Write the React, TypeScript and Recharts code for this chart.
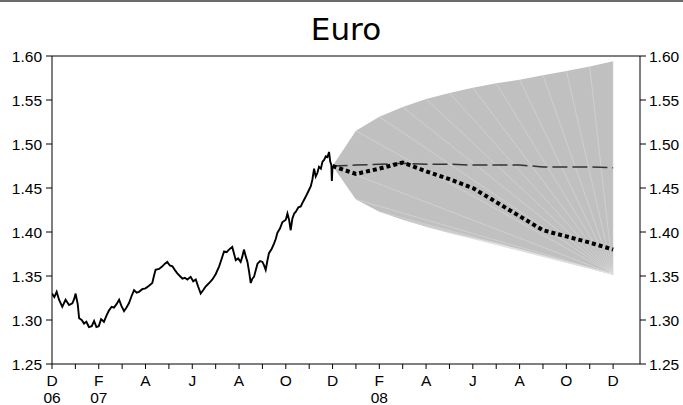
import { ComposedChart, Area, Line, XAxis, YAxis, ReferenceLine } from 'recharts'

// time axis: months since 1 Dec 2006
const spotMonths = [
  0, 0.1, 0.2, 0.3, 0.44, 0.58, 0.73, 0.87, 0.95, 1.01,
  1.1, 1.16, 1.27, 1.37, 1.47, 1.58, 1.7, 1.8, 1.9, 2.0,
  2.1, 2.22, 2.33, 2.44, 2.55, 2.65, 2.76, 2.87, 2.97, 3.08,
  3.18, 3.29, 3.4, 3.51, 3.62, 3.72, 3.86, 4.0, 4.15, 4.29,
  4.36, 4.43, 4.58, 4.72, 4.83, 4.93, 5.04, 5.15, 5.25, 5.36,
  5.47, 5.58, 5.68, 5.79, 5.93, 6.04, 6.15, 6.25, 6.36, 6.47,
  6.57, 6.72, 6.86, 7.0, 7.15, 7.25, 7.36, 7.47, 7.57, 7.71,
  7.79, 7.86, 7.96, 8.07, 8.14, 8.21, 8.29, 8.36, 8.43, 8.5,
  8.57, 8.64, 8.72, 8.79, 8.9, 9.0, 9.07, 9.14, 9.21, 9.28,
  9.4, 9.5, 9.57, 9.64, 9.75, 9.85, 10.0, 10.07, 10.14, 10.21,
  10.28, 10.36, 10.43, 10.54, 10.64, 10.75, 10.85, 10.96, 11.07, 11.14,
  11.21, 11.28, 11.35, 11.42, 11.5, 11.57, 11.64, 11.71, 11.78, 11.85,
  11.9, 11.95, 11.97, 12.0,
]
const spotRates = [
  1.330, 1.326, 1.332, 1.323, 1.315, 1.323, 1.317, 1.319, 1.324, 1.330,
  1.318, 1.302, 1.300, 1.296, 1.298, 1.292, 1.293, 1.299, 1.292, 1.293,
  1.301, 1.298, 1.305, 1.311, 1.315, 1.314, 1.318, 1.323, 1.316, 1.310,
  1.314, 1.319, 1.327, 1.334, 1.331, 1.332, 1.335, 1.336, 1.339, 1.342,
  1.350, 1.357, 1.358, 1.361, 1.364, 1.366, 1.362, 1.361, 1.357, 1.353,
  1.350, 1.347, 1.348, 1.346, 1.349, 1.344, 1.346, 1.338, 1.330, 1.334,
  1.338, 1.342, 1.346, 1.352, 1.361, 1.369, 1.378, 1.377, 1.380, 1.383,
  1.375, 1.368, 1.370, 1.366, 1.372, 1.380, 1.372, 1.366, 1.355, 1.342,
  1.347, 1.349, 1.357, 1.364, 1.367, 1.366, 1.362, 1.357, 1.367, 1.376,
  1.381, 1.387, 1.392, 1.399, 1.404, 1.411, 1.414, 1.421, 1.414, 1.402,
  1.415, 1.421, 1.423, 1.428, 1.429, 1.435, 1.440, 1.446, 1.452, 1.460,
  1.472, 1.463, 1.467, 1.474, 1.472, 1.480, 1.482, 1.486, 1.485, 1.491,
  1.480, 1.476, 1.458, 1.475,
]

const forecastMonths = [12, 13, 14, 15, 16, 17, 18, 19, 20, 21, 22, 23, 24]
const fanLow = [1.475, 1.437, 1.423, 1.414, 1.406, 1.399, 1.393, 1.387, 1.380, 1.373, 1.366, 1.359, 1.352]
const fanHigh = [1.475, 1.515, 1.531, 1.542, 1.551, 1.558, 1.564, 1.569, 1.573, 1.578, 1.583, 1.588, 1.594]
const medianPath = [1.475, 1.466, 1.472, 1.479, 1.469, 1.460, 1.450, 1.434, 1.418, 1.402, 1.395, 1.388, 1.380]
const forwardRate = [1.475, 1.476, 1.477, 1.478, 1.477, 1.477, 1.476, 1.476, 1.476, 1.474, 1.474, 1.474, 1.473]

const monthTicks = [0, 1, 2, 3, 4, 5, 6, 7, 8, 9, 10, 11, 12, 13, 14, 15, 16, 17, 18, 19, 20, 21, 22, 23, 24]
const tickLabels: Record<number, string[]> = {
  0: ['D', '06'], 2: ['F', '07'], 4: ['A'], 6: ['J'], 8: ['A'], 10: ['O'],
  12: ['D'], 14: ['F', '08'], 16: ['A'], 18: ['J'], 20: ['A'], 22: ['O'], 24: ['D'],
}
const rateTicks = [1.25, 1.3, 1.35, 1.4, 1.45, 1.5, 1.55, 1.6]

const FONT = '"Liberation Sans", Arial, sans-serif'
const AXIS = '#000'

const spotData = spotMonths.map((m, i) => ({ m, v: spotRates[i] }))
const fanData = forecastMonths.map((m, i) => ({ m, range: [fanLow[i], fanHigh[i]] }))
const medianData = forecastMonths.map((m, i) => ({ m, v: medianPath[i] }))
const forwardData = forecastMonths.map((m, i) => ({ m, v: forwardRate[i] }))

// faint seams of the fan polygon, all from its last lower vertex
const last = forecastMonths.length - 1
const seams = [
  ...forecastMonths.map((m, i) => ({ m, v: fanHigh[i] })),
  ...forecastMonths.slice(1, last).map((m, i) => ({ m, v: fanLow[i + 1] })),
].map(p => [{ m: forecastMonths[last], v: fanLow[last] }, p])

const MonthTick = ({ x, y, payload }: any) => {
  const lines = tickLabels[payload.value]
  if (!lines) return null
  return (
    <text x={x} y={y} textAnchor="middle" fontFamily={FONT} fontSize={15.5} fill="#000">
      <tspan x={x} dy={15}>{lines[0]}</tspan>
      {lines[1] && <tspan x={x} dy={17}>{lines[1]}</tspan>}
    </text>
  )
}

export default function App() {
  return (
    <div style={{ position: 'relative', width: 683, height: 405, background: '#fff' }}>
      <style>{'body{margin:0}'}</style>
      <div style={{ position: 'absolute', left: 0, top: 0, width: 683, height: 2, background: '#6b6b6b' }} />
      <ComposedChart width={683} height={405} margin={{ top: 56, right: 6, bottom: 5, left: 8 }}>
        <XAxis
          dataKey="m"
          type="number"
          domain={[0, 25.15]}
          ticks={monthTicks}
          interval={0}
          allowDataOverflow
          tick={<MonthTick />}
          tickSize={5}
          tickMargin={2}
          height={36}
          axisLine={{ stroke: AXIS }}
          tickLine={{ stroke: AXIS }}
        />
        <YAxis
          yAxisId="left"
          domain={[1.25, 1.6]}
          ticks={rateTicks}
          interval={0}
          allowDataOverflow
          width={44}
          tickSize={6}
          tickMargin={4}
          tickFormatter={(v: number) => v.toFixed(2)}
          tick={{ fill: '#000', fontSize: 15.5, fontFamily: FONT }}
          axisLine={{ stroke: AXIS }}
          tickLine={{ stroke: AXIS }}
        />
        <YAxis
          yAxisId="right"
          orientation="right"
          domain={[1.25, 1.6]}
          ticks={rateTicks}
          interval={0}
          allowDataOverflow
          width={37}
          tickSize={6}
          tickMargin={3}
          tickFormatter={(v: number) => v.toFixed(2)}
          tick={{ fill: '#000', fontSize: 15.5, fontFamily: FONT }}
          axisLine={{ stroke: AXIS }}
          tickLine={{ stroke: AXIS }}
        />
        <ReferenceLine yAxisId="left" y={1.6} stroke={AXIS} />

        <Area
          yAxisId="left"
          data={fanData}
          dataKey="range"
          type="linear"
          fill="#c0c0c0"
          fillOpacity={1}
          stroke="none"
          isAnimationActive={false}
        />
        {seams.map((seg, i) => (
          <Line
            key={i}
            yAxisId="left"
            data={seg}
            dataKey="v"
            type="linear"
            stroke="#dedede"
            strokeWidth={0.5}
            dot={false}
            activeDot={false}
            isAnimationActive={false}
          />
        ))}
        <Line
          yAxisId="left"
          data={spotData}
          dataKey="v"
          type="linear"
          stroke="#000"
          strokeWidth={1.9}
          dot={false}
          isAnimationActive={false}
        />
        <Line
          yAxisId="left"
          data={forwardData}
          dataKey="v"
          type="linear"
          stroke="#333"
          strokeWidth={1.5}
          strokeDasharray="15 5"
          dot={false}
          isAnimationActive={false}
        />
        <Line
          yAxisId="left"
          data={medianData}
          dataKey="v"
          type="linear"
          stroke="#000"
          strokeWidth={4}
          strokeDasharray="4 3"
          dot={false}
          isAnimationActive={false}
        />
      </ComposedChart>
      <svg width={683} height={50} style={{ position: 'absolute', left: 0, top: 0, pointerEvents: 'none' }}>
        <text x={346} y={40} textAnchor="middle" fontFamily='"DejaVu Sans", sans-serif' fontSize={31} fill="#000">
          Euro
        </text>
      </svg>
    </div>
  )
}
